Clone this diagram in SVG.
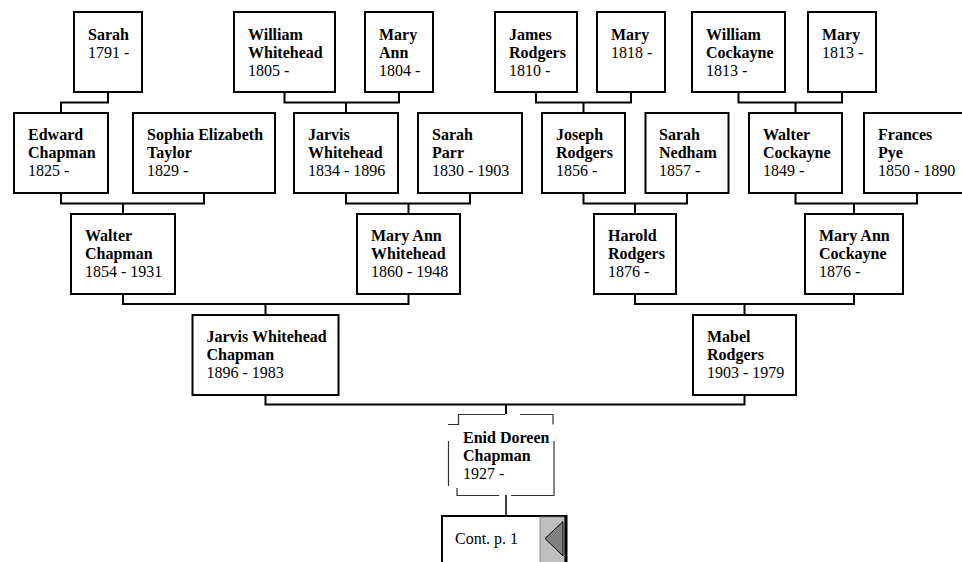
<svg xmlns="http://www.w3.org/2000/svg" width="962" height="562" viewBox="0 0 962 562">
<style>
  .box { fill: #fff; stroke: #000; stroke-width: 2; }
  .c { fill: none; stroke: #000; stroke-width: 2; }
  text { font-family: "Liberation Serif", "Times New Roman", serif; font-size: 16px; fill: #000; }
  .n { font-weight: bold; }
  .dash { fill: none; stroke: #333; stroke-width: 1.2; }
</style>
<rect width="962" height="562" fill="#fff"/>

<g id="connectors">
  <path class="c" d="M108,92 V102.5 H61 V113"/>
  <path class="c" d="M284.5,92 V102.5 H399 V92 M346,102.5 V113"/>
  <path class="c" d="M536,92 V102.5 H631 V92 M583.5,102.5 V113"/>
  <path class="c" d="M738.5,92 V102.5 H842 V92 M795.5,102.5 V113"/>
  <path class="c" d="M61,193 V203.5 H204 V193 M123,203.5 V214"/>
  <path class="c" d="M346,193 V203.5 H470 V193 M408.5,203.5 V214"/>
  <path class="c" d="M583.5,193 V203.5 H687 V193 M635,203.5 V214"/>
  <path class="c" d="M795.5,193 V203.5 H917 V193 M854,203.5 V214"/>
  <path class="c" d="M123,294 V304 H408.5 V294 M265.5,304 V315"/>
  <path class="c" d="M635,294 V304 H854 V294 M744.5,304 V315"/>
  <path class="c" d="M265.5,395 V404.5 H744.5 V395 M506,404.5 V414"/>
  <path class="c" d="M506,495 V516" style="stroke-width:1.5"/>
</g>

<g id="sarah1791"><rect class="box" x="74" y="12" width="68" height="80"/>
  <text x="88" y="40"><tspan class="n">Sarah</tspan><tspan x="88" dy="17.5">1791 -</tspan></text></g>
<g id="william-whitehead"><rect class="box" x="234" y="12" width="101" height="80"/>
  <text x="248" y="40"><tspan class="n">William</tspan><tspan class="n" x="248" dy="18">Whitehead</tspan><tspan x="248" dy="18">1805 -</tspan></text></g>
<g id="mary-ann"><rect class="box" x="365" y="12" width="68" height="80"/>
  <text x="379" y="40"><tspan class="n">Mary</tspan><tspan class="n" x="379" dy="18">Ann</tspan><tspan x="379" dy="18">1804 -</tspan></text></g>
<g id="james-rodgers"><rect class="box" x="495" y="12" width="82" height="80"/>
  <text x="509" y="40"><tspan class="n">James</tspan><tspan class="n" x="509" dy="18">Rodgers</tspan><tspan x="509" dy="18">1810 -</tspan></text></g>
<g id="mary1818"><rect class="box" x="597" y="12" width="68" height="80"/>
  <text x="611" y="40"><tspan class="n">Mary</tspan><tspan x="611" dy="17.5">1818 -</tspan></text></g>
<g id="william-cockayne"><rect class="box" x="692" y="12" width="93" height="80"/>
  <text x="706" y="40"><tspan class="n">William</tspan><tspan class="n" x="706" dy="18">Cockayne</tspan><tspan x="706" dy="18">1813 -</tspan></text></g>
<g id="mary1813"><rect class="box" x="808" y="12" width="68" height="80"/>
  <text x="822" y="40"><tspan class="n">Mary</tspan><tspan x="822" dy="17.5">1813 -</tspan></text></g>

<g id="edward-chapman"><rect class="box" x="14" y="113" width="94" height="80"/>
  <text x="28" y="140"><tspan class="n">Edward</tspan><tspan class="n" x="28" dy="18">Chapman</tspan><tspan x="28" dy="18">1825 -</tspan></text></g>
<g id="sophia-taylor"><rect class="box" x="133" y="113" width="142" height="80"/>
  <text x="147" y="140"><tspan class="n">Sophia Elizabeth</tspan><tspan class="n" x="147" dy="18">Taylor</tspan><tspan x="147" dy="18">1829 -</tspan></text></g>
<g id="jarvis-whitehead"><rect class="box" x="294" y="113" width="104" height="80"/>
  <text x="308" y="140"><tspan class="n">Jarvis</tspan><tspan class="n" x="308" dy="18">Whitehead</tspan><tspan x="308" dy="18">1834 - 1896</tspan></text></g>
<g id="sarah-parr"><rect class="box" x="418" y="113" width="104" height="80"/>
  <text x="432" y="140"><tspan class="n">Sarah</tspan><tspan class="n" x="432" dy="18">Parr</tspan><tspan x="432" dy="18">1830 - 1903</tspan></text></g>
<g id="joseph-rodgers"><rect class="box" x="542" y="113" width="83" height="80"/>
  <text x="556" y="140"><tspan class="n">Joseph</tspan><tspan class="n" x="556" dy="18">Rodgers</tspan><tspan x="556" dy="18">1856 -</tspan></text></g>
<g id="sarah-nedham"><rect class="box" x="645.5" y="113" width="83" height="80"/>
  <text x="659" y="140"><tspan class="n">Sarah</tspan><tspan class="n" x="659" dy="18">Nedham</tspan><tspan x="659" dy="18">1857 -</tspan></text></g>
<g id="walter-cockayne"><rect class="box" x="749" y="113" width="93" height="80"/>
  <text x="763" y="140"><tspan class="n">Walter</tspan><tspan class="n" x="763" dy="18">Cockayne</tspan><tspan x="763" dy="18">1849 -</tspan></text></g>
<g id="frances-pye"><rect class="box" x="864" y="113" width="106" height="80"/>
  <text x="878" y="140"><tspan class="n">Frances</tspan><tspan class="n" x="878" dy="18">Pye</tspan><tspan x="878" dy="18">1850 - 1890</tspan></text></g>

<g id="walter-chapman"><rect class="box" x="71" y="214" width="104" height="80"/>
  <text x="85" y="240.5"><tspan class="n">Walter</tspan><tspan class="n" x="85" dy="18">Chapman</tspan><tspan x="85" dy="18">1854 - 1931</tspan></text></g>
<g id="mary-ann-whitehead"><rect class="box" x="357" y="214" width="103" height="80"/>
  <text x="371" y="240.5"><tspan class="n">Mary Ann</tspan><tspan class="n" x="371" dy="18">Whitehead</tspan><tspan x="371" dy="18">1860 - 1948</tspan></text></g>
<g id="harold-rodgers"><rect class="box" x="594" y="214" width="82" height="80"/>
  <text x="608" y="240.5"><tspan class="n">Harold</tspan><tspan class="n" x="608" dy="18">Rodgers</tspan><tspan x="608" dy="18">1876 -</tspan></text></g>
<g id="mary-ann-cockayne"><rect class="box" x="805" y="214" width="98" height="80"/>
  <text x="819" y="240.5"><tspan class="n">Mary Ann</tspan><tspan class="n" x="819" dy="18">Cockayne</tspan><tspan x="819" dy="18">1876 -</tspan></text></g>

<g id="jarvis-whitehead-chapman"><rect class="box" x="192.5" y="315" width="146" height="80"/>
  <text x="206.5" y="342"><tspan class="n">Jarvis Whitehead</tspan><tspan class="n" x="206.5" dy="18">Chapman</tspan><tspan x="206.5" dy="18">1896 - 1983</tspan></text></g>
<g id="mabel-rodgers"><rect class="box" x="693" y="315" width="103" height="80"/>
  <text x="707" y="342"><tspan class="n">Mabel</tspan><tspan class="n" x="707" dy="18">Rodgers</tspan><tspan x="707" dy="18">1903 - 1979</tspan></text></g>

<g id="enid-doreen-chapman">
  <path class="dash" d="M448,424.5 H458.5 V414.5 H505 M520,414.5 H553 V424.5 M554,441 V486 M554,485 V495.5 H511 M499,495.5 H457 V488 M448.5,441 V486"/>
  <text x="463" y="443"><tspan class="n">Enid Doreen</tspan><tspan class="n" x="463" dy="18">Chapman</tspan><tspan x="463" dy="18">1927 -</tspan></text>
</g>

<g id="cont-p1">
  <rect class="box" x="442" y="516" width="124" height="60"/>
  <rect x="540" y="517" width="25" height="46" fill="#c0c0c0" stroke="#777" stroke-width="0.8"/>
  <line x1="566" y1="515" x2="566" y2="562" stroke="#000" stroke-width="3"/>
  <polygon points="545,538.5 563,521.5 563,556" fill="#808080" stroke="#000" stroke-width="1"/>
  <text x="455" y="543.5">Cont. p. 1</text>
</g>
</svg>
